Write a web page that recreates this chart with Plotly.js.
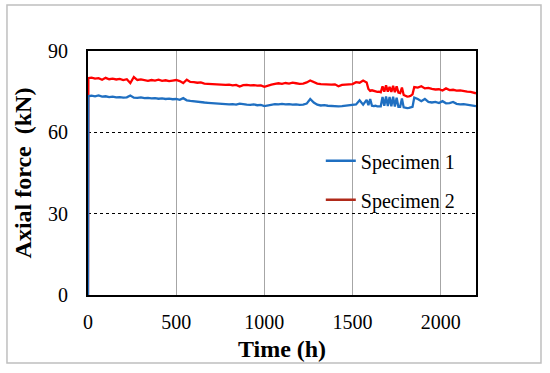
<!DOCTYPE html>
<html>
<head>
<meta charset="utf-8">
<script src="https://cdn.plot.ly/plotly-3.0.1.min.js"></script>
<style>
  html, body { margin: 0; padding: 0; background: #ffffff; }
  #chart { width: 550px; height: 373px; }
</style>
</head>
<body>
<div id="chart"></div>
<script>
// Time (h)
const timeH = [
  0, 2, 20, 40, 60, 80, 100, 120, 140, 160, 180, 200, 220, 240, 260, 280, 300, 320, 340, 360,
  380, 400, 420, 440, 460, 480, 500, 520, 540, 560, 580, 600, 620, 640, 660, 680, 700, 720, 740, 760,
  780, 800, 820, 840, 860, 880, 900, 920, 940, 960, 980, 1000, 1020, 1040, 1060, 1080, 1100, 1120, 1140, 1160,
  1180, 1200, 1220, 1240, 1260, 1280, 1300, 1320, 1340, 1360, 1380, 1400, 1420, 1440, 1460, 1480, 1500, 1520, 1540, 1560,
  1580, 1590, 1600, 1610, 1620, 1630, 1640, 1650, 1660, 1670, 1680, 1690, 1700, 1710, 1720, 1730, 1740, 1750, 1760, 1770,
  1780, 1790, 1800, 1810, 1820, 1830, 1840, 1850, 1870, 1890, 1910, 1930, 1950, 1970, 1990, 2010, 2030, 2050, 2070, 2090,
  2110, 2130, 2150, 2170, 2190, 2200
];

// Specimen 1 axial force (kN)
const specimen1 = [
  0, 73.4, 73.5, 73.3, 73.6, 73.2, 73.3, 73.0, 73.2, 72.9, 73.0, 72.8, 72.9, 73.6, 72.8, 72.7, 72.9, 72.6, 72.7, 72.5,
  72.6, 72.4, 72.5, 72.3, 72.4, 72.2, 72.3, 72.0, 72.6, 71.8, 71.6, 71.4, 71.3, 71.1, 71.0, 70.9, 70.8, 70.7, 70.5, 70.6,
  70.4, 70.3, 70.4, 70.2, 70.6, 70.3, 70.2, 70.1, 70.3, 70.0, 70.1, 69.7, 70.0, 70.2, 70.4, 70.3, 70.5, 70.3, 70.4, 70.2,
  70.3, 70.1, 70.2, 70.6, 72.3, 71.0, 70.2, 69.9, 70.0, 69.8, 69.7, 69.8, 69.6, 69.7, 69.8, 69.9, 70.0, 70.3, 71.8, 70.2,
  72.0, 70.0, 72.3, 69.8, 69.7, 69.8, 69.6, 69.7, 69.6, 73.0, 69.8, 73.2, 69.7, 73.0, 69.6, 73.1, 69.5, 72.8, 69.4, 69.4,
  72.5, 69.2, 69.0, 68.9, 69.0, 69.1, 69.4, 72.8, 72.3, 71.5, 72.3, 71.2, 71.0, 71.2, 70.8, 71.5, 70.7, 70.8, 71.2, 70.5,
  70.3, 70.4, 70.2, 70.0, 69.8, 69.7
];

// Specimen 2 axial force (kN)
const specimen2 = [
  0, 80.0, 80.2, 79.8, 80.0, 79.4, 80.1, 79.6, 79.8, 79.5, 79.7, 79.3, 79.6, 78.2, 80.4, 79.3, 79.5, 79.2, 79.0, 79.3,
  79.1, 79.4, 79.0, 79.2, 78.9, 79.1, 79.3, 78.9, 78.2, 79.4, 78.6, 78.5, 78.3, 78.4, 78.0, 77.9, 77.8, 77.9, 77.6, 77.7,
  77.5, 77.6, 77.3, 77.5, 76.9, 77.4, 77.5, 77.3, 77.4, 77.2, 77.3, 76.8, 77.3, 77.6, 77.9, 78.1, 77.9, 78.2, 78.0, 78.3,
  78.1, 77.9, 78.0, 78.4, 79.1, 78.6, 78.0, 77.8, 77.7, 77.8, 77.6, 77.7, 77.0, 77.5, 77.6, 77.6, 77.8, 78.5, 78.3, 79.1,
  78.4, 76.0, 75.3, 75.5, 75.2, 75.0, 74.9, 75.0, 74.8, 77.0, 75.0, 77.3, 75.0, 76.8, 74.9, 77.2, 74.8, 77.0, 74.7, 74.5,
  76.5, 73.8, 73.4, 73.2, 73.3, 73.5, 74.0, 76.7, 76.5, 77.0, 76.2, 76.4, 76.0, 75.8, 75.9, 75.4, 76.2, 75.6, 75.7, 75.4,
  75.5, 75.2, 75.0, 74.9, 74.5, 74.4
];

const seriesNames = ["Specimen 1", "Specimen 2"];
const xTicks = [0, 500, 1000, 1500, 2000];
const yTicks = [0, 30, 60, 90];

const serif = "Liberation Serif";
const ser = s => "<span style='font-family:Liberation Serif'>" + s + "</span>";

const traces = [
  { x: timeH, y: specimen2, type: "scatter", mode: "lines", showlegend: false,
    line: { color: "#ff0000", width: 2.3 }, hoverinfo: "skip" },
  { x: timeH, y: specimen1, type: "scatter", mode: "lines", showlegend: false,
    line: { color: "#1f6fc1", width: 2.3 }, hoverinfo: "skip" },
  { x: [null], y: [null], type: "scatter", mode: "lines", name: ser(seriesNames[0]), legendgroup: "a",
    line: { color: "#1f6fc1", width: 2.5 } },
  { x: [null], y: [null], type: "scatter", mode: "lines", name: ser(seriesNames[1]), legendgroup: "b",
    line: { color: "#b02a1a", width: 2.5 } }
];

const layout = {
  width: 550, height: 373,
  margin: { l: 88, r: 74, t: 51, b: 78 },
  paper_bgcolor: "#ffffff",
  plot_bgcolor: "#ffffff",
  xaxis: {
    range: [0, 2200],
    tickvals: xTicks,
    ticktext: xTicks.map(v => ser(String(v))),
    ticks: "outside", ticklen: 8, tickcolor: "rgba(0,0,0,0)",
    showgrid: true, gridcolor: "#a6a6a6", gridwidth: 1,
    zeroline: false,
    showline: true, mirror: true, linecolor: "#000000", linewidth: 2,
    tickfont: { family: serif, size: 20, color: "#000000" },
    title: { text: "<b>Time (h)</b>", font: { family: serif, size: 24, color: "#000000" }, standoff: 8 }
  },
  yaxis: {
    range: [0, 90],
    tickvals: yTicks,
    ticktext: yTicks.map(v => ser(String(v))),
    ticks: "",
    ticklabelstandoff: 14,
    showgrid: true, gridcolor: "#000000", gridwidth: 1.3, griddash: "dot",
    zeroline: false,
    showline: true, mirror: true, linecolor: "#000000", linewidth: 2,
    tickfont: { family: serif, size: 20, color: "#000000" },
    title: { text: "<b>Axial force  (kN)</b>", font: { family: serif, size: 24, color: "#000000" }, standoff: 10 }
  },
  legend: {
    x: 0.60, y: 0.63, xanchor: "left", yanchor: "top",
    bgcolor: "rgba(0,0,0,0)",
    font: { family: serif, size: 20, color: "#000000" },
    tracegroupgap: 10
  },
  shapes: [
    { type: "rect", xref: "paper", yref: "paper",
      x0: -0.2088, x1: 1.1675, y0: -0.2787, y1: 1.1885,
      line: { color: "#bfbfbf", width: 1.5 }, fillcolor: "rgba(0,0,0,0)", layer: "below" }
  ],
  showlegend: true
};

Plotly.newPlot("chart", traces, layout, { staticPlot: true, displayModeBar: false });
</script>
</body>
</html>
